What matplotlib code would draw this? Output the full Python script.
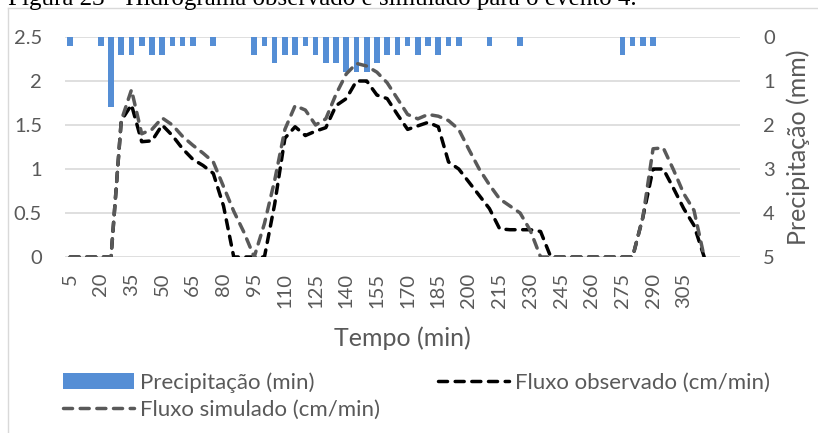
import matplotlib.pyplot as plt
from matplotlib.lines import Line2D

# tempo (min), um valor a cada 5 minutos
tempo = [5, 10, 15, 20, 25, 30, 35, 40, 45, 50,
         55, 60, 65, 70, 75, 80, 85, 90, 95, 100,
         105, 110, 115, 120, 125, 130, 135, 140, 145, 150,
         155, 160, 165, 170, 175, 180, 185, 190, 195, 200,
         205, 210, 215, 220, 225, 230, 235, 240, 245, 250,
         255, 260, 265, 270, 275, 280, 285, 290, 295, 300,
         305, 310, 315]

# precipitação (mm)
precipitacao = [0.2, 0, 0, 0.2, 1.6, 0.4, 0.4, 0.2, 0.4, 0.4,
                0.2, 0.2, 0.2, 0, 0.2, 0, 0, 0, 0.4, 0.2,
                0.6, 0.4, 0.4, 0.2, 0.4, 0.6, 0.6, 0.8, 0.8, 0.8,
                0.6, 0.4, 0.4, 0.2, 0.4, 0.2, 0.4, 0.2, 0.2, 0,
                0, 0.2, 0, 0, 0.2, 0, 0, 0, 0, 0,
                0, 0, 0, 0, 0.4, 0.2, 0.2, 0.2, 0, 0,
                0, 0, 0]

# fluxo observado (cm/min)
observado = [0, 0, 0, 0, 0, 1.55, 1.73, 1.31, 1.32, 1.5,
             1.38, 1.23, 1.11, 1.04, 0.95, 0.58, 0, 0, 0, 0,
             0.6, 1.35, 1.48, 1.38, 1.43, 1.47, 1.72, 1.8, 2.0, 2.0,
             1.84, 1.8, 1.62, 1.45, 1.49, 1.53, 1.48, 1.08, 1.0, 0.85,
             0.7, 0.55, 0.32, 0.31, 0.31, 0.31, 0.29, 0, 0, 0,
             0, 0, 0, 0, 0, 0, 0.45, 1.0, 1.0, 0.78,
             0.55, 0.36, 0]

# fluxo simulado (cm/min)
simulado = [0, 0, 0, 0, 0, 1.55, 1.9, 1.4, 1.45, 1.58,
            1.5, 1.37, 1.27, 1.18, 1.08, 0.8, 0.52, 0.28, 0, 0.38,
            0.87, 1.45, 1.72, 1.67, 1.5, 1.57, 1.85, 2.08, 2.2, 2.17,
            2.1, 1.98, 1.8, 1.62, 1.57, 1.62, 1.6, 1.55, 1.45, 1.22,
            1.0, 0.82, 0.66, 0.58, 0.5, 0.3, 0, 0, 0, 0,
            0, 0, 0, 0, 0, 0, 0.45, 1.23, 1.24, 0.99,
            0.72, 0.53, 0]

plt.rcParams['font.family'] = ['Lato', 'DejaVu Sans']
cinza = '#595959'
W, H = 818, 433

fig = plt.figure(figsize=(W / 100, H / 100), dpi=100)

# moldura da área do gráfico
fig.add_artist(Line2D([8 / W, 1], [1 - 8 / H, 1 - 8 / H], color='#d9d9d9', lw=1))
fig.add_artist(Line2D([8 / W, 8 / W], [0, 1 - 8 / H], color='#d9d9d9', lw=1))

fig.text(8 / W, 1 - 5 / H, 'Figura 23 - Hidrograma observado e simulado para o evento 4.',
         family='Liberation Serif', fontsize=18, ha='left', va='baseline')

ax = fig.add_axes([65 / W, 1 - 257 / H, 675 / W, 220 / H])
ax2 = ax.twinx()

pos = list(range(len(tempo)))

barras = ax2.bar(pos, precipitacao, width=0.55, color='#558ED5')
ax2.set_ylim(5, 0)
ax2.set_yticks([0, 1, 2, 3, 4, 5])
ax2.yaxis.grid(True, color='#d9d9d9', lw=1.2)
ax2.set_axisbelow(True)

estilo = dict(lw=2.5, dashes=(2.6, 2.2), dash_capstyle='round')
l_obs, = ax.plot(pos, observado, color='black', **estilo)
l_sim, = ax.plot(pos, simulado, color=cinza, **estilo)

ax.set_zorder(ax2.get_zorder() + 1)
ax.patch.set_visible(False)

ax.set_xlim(-0.5, 65.5)
ax.set_ylim(0, 2.5)
ax.set_yticks([0, 0.5, 1, 1.5, 2, 2.5])
ax.set_yticklabels(['0', '0.5', '1', '1.5', '2', '2.5'])
ax.set_xticks(pos[::3])
ax.set_xticklabels([str(t) for t in tempo[::3]], rotation=90)

for a in (ax, ax2):
    for s in a.spines.values():
        s.set_visible(False)
ax.tick_params(axis='x', length=0, pad=11.5, labelsize=14.5, labelcolor=cinza)
ax.tick_params(axis='y', length=0, pad=16.5, labelsize=14.5, labelcolor=cinza)
ax2.tick_params(axis='y', length=0, pad=16.5, labelsize=14.5, labelcolor=cinza)

ax.set_xlabel('Tempo (min)', fontsize=18, color=cinza, va='center')
ax.xaxis.set_label_coords(0.5, (257 - 338) / 220)
ax2.set_ylabel('Precipitação (mm)', fontsize=18, color=cinza, va='center', rotation=90)
ax2.yaxis.set_label_coords((798 - 65) / 675, 0.5)

fig.legend([barras, l_sim, l_obs],
           ['Precipitação (min)', 'Fluxo simulado (cm/min)', 'Fluxo observado (cm/min)'],
           ncol=2, loc='center left', bbox_to_anchor=(63 / W, 1 - 396 / H),
           frameon=False, fontsize=16, labelcolor=cinza, handlelength=3.2,
           handletextpad=0.27, columnspacing=2.6, labelspacing=0.3,
           borderpad=0, borderaxespad=0)

fig.savefig('out.png', dpi=100)
